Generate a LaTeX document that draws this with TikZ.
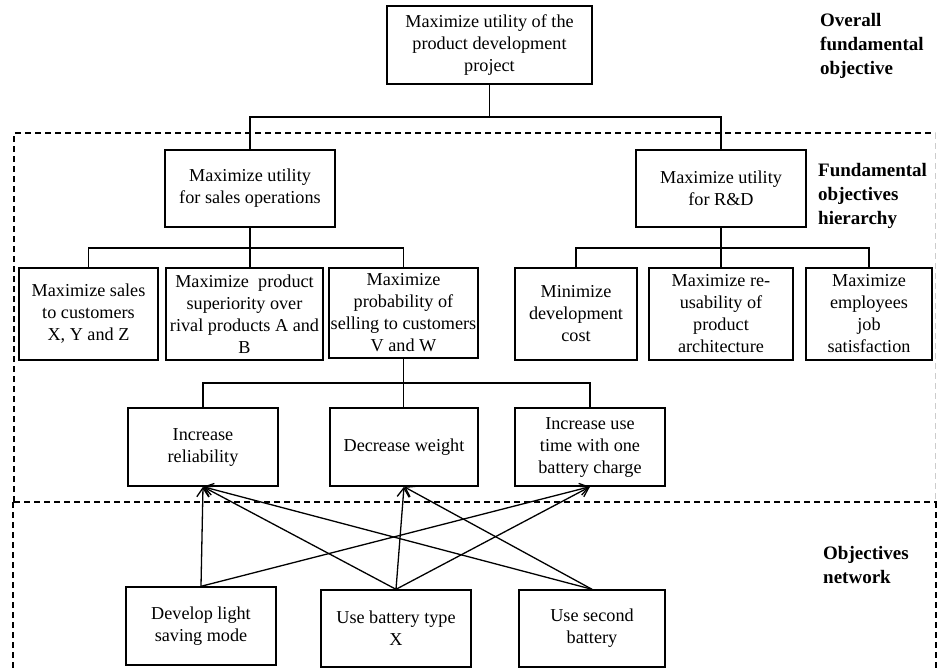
\documentclass[tikz,border=0pt]{standalone}
\usepackage{fontspec}
\setmainfont{Liberation Serif}
\usetikzlibrary{arrows.meta}
\begin{document}
\begin{tikzpicture}[x=1pt,y=-1pt,
  box/.style={draw, line width=1.4pt, rectangle, inner sep=0pt, align=center, font=\fontsize{18.2}{22}\selectfont},
  conn/.style={line width=1.2pt},
  trunk/.style={line width=1.8pt},
  arr/.style={line width=1.3pt, -{Straight Barb[length=9pt,width=12pt]}},
  sect/.style={dash pattern=on 6pt off 4pt, line width=1.4pt},
  lab/.style={anchor=north west, align=left, inner sep=0pt, font=\fontsize{19}{24}\selectfont\bfseries}]
\useasboundingbox (0,0) rectangle (937,670);
\begin{scope}
\clip (0,0) rectangle (937,670);
% section frames
\draw[sect] (14,502) -- (14,133) -- (935,133);
\draw[sect, gray!40, line width=1pt] (935,133) -- (935,502);
\draw[sect] (14,502) -- (937,502);
\draw[sect] (13,502) -- (13,672);
\draw[sect] (936,502) -- (936,672);
\end{scope}
% boxes
\node[box, minimum width=205, minimum height=78] (top) at (489.5,45) {Maximize utility of the\\product development\\project};
\node[box, minimum width=170, minimum height=77] (sales) at (250,188.5) {Maximize utility\\for sales operations};
\node[box, minimum width=170, minimum height=77] (rd) at (721,188.5) {Maximize utility\\for R\&D};
\node[box, minimum width=139, minimum height=92] (s1) at (88.5,314) {Maximize sales\\to customers\\X, Y and Z};
\node[box, minimum width=157, minimum height=92] (s2) at (244.5,314) {Maximize\ \ product\\superiority over\\rival products A and\\B};
\node[box, minimum width=149, minimum height=90] (s3) at (403.5,313) {Maximize\\probability of\\selling to customers\\V and W};
\node[box, minimum width=122, minimum height=92] (r1) at (576,314) {Minimize\\development\\cost};
\node[box, minimum width=144, minimum height=92] (r2) at (721,314) {Maximize re-\\usability of\\product\\architecture};
\node[box, minimum width=126, minimum height=92] (r3) at (869,314) {Maximize\\employees\\job\\satisfaction};
\node[box, minimum width=150, minimum height=78] (l1) at (203,447) {Increase\\reliability};
\node[box, minimum width=148, minimum height=78] (l2) at (404,447) {Decrease weight};
\node[box, minimum width=150, minimum height=78] (l3) at (590,447) {Increase use\\time with one\\battery charge};
\node[box, minimum width=150, minimum height=78] (b1) at (201,626) {Develop light\\saving mode};
\node[box, minimum width=150, minimum height=77] (b2) at (396,628.5) {Use battery type\\X};
\node[box, minimum width=146, minimum height=77] (b3) at (592,628.5) {Use second\\battery};
% tree connectors
\coordinate (j1) at (489.5,117);
\coordinate (j2) at (250,248);
\coordinate (j3) at (721,248);
\coordinate (j4) at (403.5,383);
\draw[conn] (top.south) -- (j1);
\draw[conn] (sales.north) |- (j1) -| (rd.north);
\draw[conn] (s1.north) |- (j2) -| (s3.north);
\draw[trunk] (sales.south) -- (sales.south |- s2.north);
\draw[conn] (r1.north) |- (j3) -| (r3.north);
\draw[trunk] (rd.south) -- (r2.north);
\draw[conn] (l1.north) |- (j4) -| (l3.north);
\draw[trunk] (s3.south) -- (s3.south |- l2.north);
% network arrows
\draw[arr] (b1.north) -- (l1.south);
\draw[arr] (b1.north) -- (l3.south);
\draw[arr] (b2.north) -- (l1.south);
\draw[arr] (b2.north) -- (l2.south);
\draw[arr] (b2.north) -- (l3.south);
\draw[arr] (b3.north) -- (l1.south);
\draw[arr] (b3.north) -- (l2.south);
% labels
\node[lab] (labover) at (820,13) {Overall\\fundamental\\objective};
\node[lab] (labfund) at (818,163) {Fundamental\\objectives\\hierarchy};
\node[lab] (labnet) at (823,546) {Objectives\\network};
\end{tikzpicture}
\end{document}
